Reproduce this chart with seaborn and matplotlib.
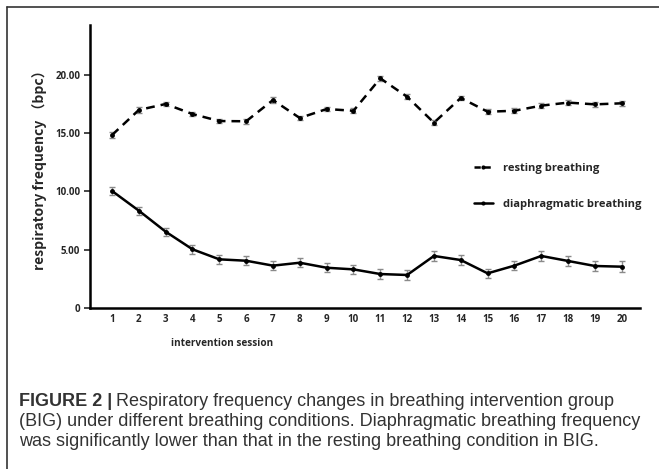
import numpy as np
import pandas as pd
import matplotlib
matplotlib.use("Agg")
import matplotlib.pyplot as plt
import seaborn as sns
from matplotlib.lines import Line2D

sessions = list(range(1, 21))
resting = [14.82, 16.97, 17.48, 16.62, 16.02, 16.00, 17.82, 16.28, 17.05, 16.90,
           19.68, 18.10, 15.88, 18.00, 16.82, 16.90, 17.34, 17.60, 17.45, 17.54]
resting_err = [0.25, 0.25, 0.2, 0.2, 0.2, 0.2, 0.25, 0.2, 0.2, 0.2,
               0.2, 0.2, 0.2, 0.2, 0.2, 0.2, 0.2, 0.2, 0.2, 0.2]
diaphragmatic = [10.03, 8.34, 6.54, 5.03, 4.17, 4.05, 3.63, 3.88, 3.45, 3.31,
                 2.91, 2.83, 4.46, 4.11, 2.97, 3.63, 4.46, 4.03, 3.60, 3.54]
diaphragmatic_err = [0.35, 0.35, 0.35, 0.4, 0.4, 0.4, 0.4, 0.4, 0.4, 0.4,
                     0.4, 0.4, 0.4, 0.4, 0.4, 0.4, 0.4, 0.4, 0.4, 0.45]
ytick_vals = [0, 5, 10, 15, 20]
ytick_labels = ["0", "5.00", "10.00", "15.00", "20.00"]
series_names = ["resting breathing", "diaphragmatic breathing"]

df = pd.DataFrame({
    "session": sessions * 2,
    "value": resting + diaphragmatic,
    "err": resting_err + diaphragmatic_err,
    "condition": [series_names[0]] * 20 + [series_names[1]] * 20,
})

sns.set_style("white")
plt.rcParams["font.family"] = ["Open Sans", "DejaVu Sans"]

fig = plt.figure(figsize=(6.59, 4.69), dpi=100)
ax = fig.add_axes([90 / 659, 1 - 308 / 469, 550 / 659, 283 / 469])

for name, sub in df.groupby("condition", sort=False):
    ax.errorbar(sub["session"], sub["value"], yerr=sub["err"], fmt="none",
                ecolor="#8a8a8a", elinewidth=1.0, capsize=2.2, capthick=1.0, zorder=2)

sns.lineplot(data=df, x="session", y="value", style="condition",
             dashes={series_names[0]: (3.5, 2.4), series_names[1]: ""},
             color="black", linewidth=1.8, marker="o", markersize=3.5,
             markeredgewidth=0, ax=ax, legend=False, zorder=3)

ax.set_xlim(0.18, 20.68)
ax.set_ylim(0, 24.25)
ax.set_xticks(sessions)
ax.set_xticklabels([str(s) for s in sessions], fontsize=7, fontweight="bold")
ax.set_yticks(ytick_vals)
ax.set_yticklabels(ytick_labels, fontsize=7, fontweight="bold")
ax.tick_params(axis="y", which="major", direction="out", length=4, width=1.2,
               left=True, pad=3)
ax.tick_params(axis="x", length=0, pad=4)
for s in ["top", "right"]:
    ax.spines[s].set_visible(False)
for s in ["left", "bottom"]:
    ax.spines[s].set_linewidth(1.8)
    ax.spines[s].set_color("black")
ax.set_xlabel("")
ax.set_ylabel("respiratory frequency （bpc）", fontsize=10, fontweight="bold",
              family=["Noto Sans CJK SC", "DejaVu Sans"], labelpad=6)

handles = [
    Line2D([], [], color="black", linewidth=1.8, linestyle=(0, (2.5, 1.5)),
           marker="o", markersize=3, markeredgewidth=0),
    Line2D([], [], color="black", linewidth=1.8, marker="o", markersize=3,
           markeredgewidth=0),
]
ax.legend(handles, series_names, loc="upper left",
          bbox_to_anchor=((464 - 90) / 550, (308 - 153) / 283),
          frameon=False, handlelength=1.7, handletextpad=0.9, labelspacing=2.25,
          prop={"weight": "bold", "size": 8})

fig.text(222 / 659, 1 - 343 / 469, "intervention session", fontsize=7.2,
         fontweight="bold", ha="center", va="center")

# figure frame (top and left edges)
fig.add_artist(Line2D([7 / 659, 1.0], [1 - 7 / 469, 1 - 7 / 469],
                      transform=fig.transFigure, color="#333333", linewidth=1.2))
fig.add_artist(Line2D([7 / 659, 7 / 659], [0, 1 - 7 / 469],
                      transform=fig.transFigure, color="#333333", linewidth=1.2))

cap_font = ["Liberation Sans", "DejaVu Sans"]
cap_size = 12.95
x0 = 19 / 659
t = fig.text(x0, 1 - 401 / 469, "FIGURE 2 |", fontsize=cap_size, fontweight="bold",
             family=cap_font, color="#333333", va="center", ha="left")
fig.canvas.draw()
bb = t.get_window_extent()
fig.text(bb.x1 / fig.bbox.width + 4 / 659, 1 - 401 / 469,
         "Respiratory frequency changes in breathing intervention group",
         fontsize=cap_size, family=cap_font, color="#333333", va="center", ha="left")
fig.text(x0, 1 - 421 / 469,
         "(BIG) under different breathing conditions. Diaphragmatic breathing frequency",
         fontsize=cap_size, family=cap_font, color="#333333", va="center", ha="left")
fig.text(x0, 1 - 441 / 469,
         "was significantly lower than that in the resting breathing condition in BIG.",
         fontsize=cap_size, family=cap_font, color="#333333", va="center", ha="left")

fig.savefig("out.png", dpi=100)
